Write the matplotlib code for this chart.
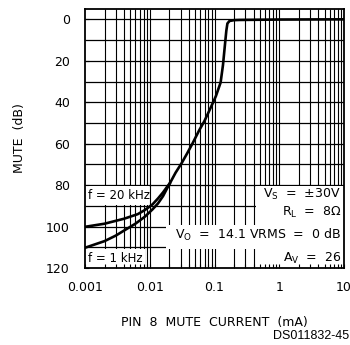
import numpy as np
import matplotlib
matplotlib.use("Agg")
import matplotlib.pyplot as plt
from matplotlib.patches import Rectangle

# curve (mute current in mA, mute in dB)
cur_20k = [0.001, 0.002, 0.004, 0.0065, 0.0084, 0.011, 0.0134, 0.016, 0.019, 0.0205]
mute_20k = [100.1, 98.6, 96.2, 94.0, 92.0, 89.3, 86.4, 83.5, 80.3, 79.0]
cur_1k = [0.001, 0.002, 0.003, 0.0041, 0.006, 0.0084, 0.011, 0.0134, 0.016, 0.0183, 0.0205]
mute_1k = [110.2, 107.0, 104.3, 101.7, 98.6, 95.2, 91.7, 88.8, 85.3, 81.8, 79.0]
cur_main = [0.0205, 0.025, 0.031, 0.038, 0.046, 0.058, 0.07, 0.089, 0.105, 0.124,
            0.135, 0.145, 0.152, 0.158, 0.17, 0.2, 0.243, 0.5, 1.0, 10.0]
mute_main = [79.0, 74.0, 69.4, 64.5, 59.7, 53.5, 49.0, 42.0, 37.0, 30.5,
             22.0, 12.0, 5.5, 2.0, 0.8, 0.4, 0.3, 0.2, 0.1, 0.0]

xticks = [0.001, 0.01, 0.1, 1, 10]
xticklabels = ["0.001", "0.01", "0.1", "1", "10"]
yticks = [0, 20, 40, 60, 80, 100, 120]

fig = plt.figure(figsize=(3.5, 3.45), dpi=100)
ax = fig.add_axes([0.243, 0.223, 0.740, 0.751])
ax.set_xscale("log")
ax.set_xlim(0.001, 10)
ax.set_ylim(120, -5)

# grid (drawn by hand so the white label boxes can hide it but not the ticks)
xgrid = [m * 10.0 ** e for e in range(-3, 1) for m in range(1, 10)][1:]
ygrid = list(range(0, 120, 10))
ax.vlines(xgrid, -5, 120, colors="black", lw=0.8, zorder=0.6)
ax.hlines(ygrid, 0.001, 10, colors="black", lw=0.9, zorder=0.6)

# white label areas
boxes = [
    (0.001, 80.6, 0.0097, 89.4),
    (0.001, 110.6, 0.0085, 120),
    (0.44, 80.6, 10, 120),
    (0.018, 99.2, 0.44, 110.6),
]
for x0, y0, x1, y1 in boxes:
    ax.add_patch(Rectangle((x0, y0), x1 - x0, y1 - y0, facecolor="white",
                           edgecolor="none", zorder=1))

ax.plot(cur_20k, mute_20k, color="black", lw=1.9, zorder=3, solid_capstyle="round")
ax.plot(cur_1k, mute_1k, color="black", lw=1.9, zorder=3, solid_capstyle="round")
ax.plot(cur_main, mute_main, color="black", lw=1.9, zorder=3, solid_capstyle="round")

fs = 9
ax.text(0.00112, 85.2, "f = 20 kHz", fontsize=8.5, va="center", ha="left", zorder=4)
ax.text(0.00112, 115.3, "f = 1 kHz", fontsize=8.5, va="center", ha="left", zorder=4)
ax.text(9.0, 84.7, r"V$_\mathrm{S}$  =  ±30V", fontsize=fs, va="center", ha="right", zorder=4)
ax.text(9.0, 93.3, r"R$_\mathrm{L}$  =  8$\Omega$", fontsize=fs, va="center", ha="right", zorder=4)
ax.text(9.0, 104.0, r"V$_\mathrm{O}$  =  14.1 VRMS  =  0 dB", fontsize=fs, va="center", ha="right", zorder=4)
ax.text(9.0, 115.2, r"A$_\mathrm{V}$  =  26", fontsize=fs, va="center", ha="right", zorder=4)

ax.set_xticks(xticks)
ax.set_xticklabels(xticklabels, fontsize=fs)
ax.set_yticks(yticks)
ax.set_yticklabels([str(v) for v in yticks], fontsize=fs)
ax.tick_params(which="both", direction="in", length=3, width=0.8)
ax.tick_params(axis="x", which="major", pad=9)
ax.tick_params(axis="y", which="major", pad=11)
ax.tick_params(axis="x", which="minor", length=3)
for s in ax.spines.values():
    s.set_linewidth(1.3)
    s.set_zorder(5)

ax.set_xlabel("PIN  8  MUTE  CURRENT  (mA)", fontsize=fs, labelpad=16)
ax.set_ylabel("MUTE  (dB)", fontsize=fs, labelpad=14)

fig.text(0.997, 0.01, "DS011832-45", fontsize=9, ha="right", va="bottom",
         family="Liberation Sans")

fig.savefig("out.png", dpi=100)
